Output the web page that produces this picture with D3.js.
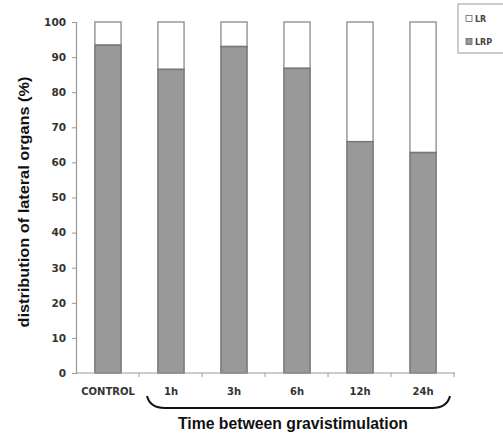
<!DOCTYPE html>
<html><head><meta charset="utf-8">
<script src="https://cdn.jsdelivr.net/npm/d3@7"></script>
<style>body{margin:0;background:#fff}svg{display:block}</style>
</head><body>
<svg id="c" width="503" height="433"></svg>
<script>
const categories = ["CONTROL","1h","3h","6h","12h","24h"];
const lrp = [93.4, 86.5, 93.0, 86.8, 65.9, 62.8];
const lr = lrp.map(v => 100 - v);
const yTicks = [0,10,20,30,40,50,60,70,80,90,100];
const seriesNames = ["LR","LRP"];

const svg = d3.select("#c");
const font = "'Liberation Sans', Arial, sans-serif";
const font2 = "'DejaVu Sans', sans-serif";
const x = d3.scaleBand().domain(categories).range([76,455]).paddingInner(0.585).paddingOuter(0.3);
const y = d3.scaleLinear().domain([0,100]).range([373,22]);

// bars
const g = svg.append("g");
categories.forEach((c,i)=>{
  g.append("rect").attr("x",x(c)).attr("width",x.bandwidth())
    .attr("y",y(100)).attr("height",y(lrp[i])-y(100))
    .attr("fill","#fff").attr("stroke","#999").attr("stroke-width",1.5);
  g.append("rect").attr("x",x(c)).attr("width",x.bandwidth())
    .attr("y",y(lrp[i])).attr("height",y(0)-y(lrp[i]))
    .attr("fill","#999").attr("stroke","#777").attr("stroke-width",1.5);
});

// y axis
const ya = svg.append("g").attr("transform","translate(76,0)")
  .call(d3.axisLeft(y).tickValues(yTicks).tickSize(4).tickPadding(6));
ya.select(".domain").attr("stroke","#999").attr("stroke-width",1.2);
ya.selectAll(".tick line").attr("stroke","#999");
ya.selectAll("text").attr("font-family",font2).attr("font-weight","bold").attr("font-size",10.5).attr("fill","#333");

// x axis
const step = x.step();
const bounds = d3.range(categories.length).map(i => 76 + step*(i+1));
svg.append("line").attr("x1",76).attr("x2",455).attr("y1",373).attr("y2",373).attr("stroke","#999").attr("stroke-width",1.2);
svg.selectAll(".xt").data(bounds).enter().append("line")
  .attr("x1",d=>d).attr("x2",d=>d).attr("y1",373).attr("y2",377).attr("stroke","#999");
svg.selectAll(".xl").data(categories).enter().append("text")
  .attr("x",d=>x(d)+x.bandwidth()/2 + (d==="CONTROL"?0:0)).attr("y",395)
  .attr("text-anchor","middle").attr("font-family",font2).attr("font-weight","bold")
  .attr("font-size",10).attr("fill","#333").text(d=>d);

// brace
svg.append("path").attr("d","M147,396 Q150,408 165,408 L432,408 Q447,408 450,396")
  .attr("fill","none").attr("stroke","#111").attr("stroke-width",2);

// titles
svg.append("text").attr("x",293).attr("y",429).attr("text-anchor","middle")
  .attr("font-family",font).attr("font-weight","bold").attr("font-size",17).attr("fill","#111")
  .attr("textLength",230).attr("lengthAdjust","spacingAndGlyphs")
  .text("Time between gravistimulation");
svg.append("text").attr("transform","translate(29,202) rotate(-90)").attr("text-anchor","middle")
  .attr("font-family",font).attr("font-weight","bold").attr("font-size",15).attr("fill","#111")
  .attr("textLength",251).attr("lengthAdjust","spacingAndGlyphs")
  .text("distribution of lateral organs (%)");

// legend
svg.append("rect").attr("x",458).attr("y",4).attr("width",50).attr("height",49)
  .attr("fill","#fff").attr("stroke","#999").attr("stroke-width",1);
seriesNames.forEach((n,i)=>{
  const yy = 19 + i*23;
  svg.append("rect").attr("x",466).attr("y",yy-3.5).attr("width",6).attr("height",6)
    .attr("fill", n==="LR" ? "#fff" : "#999").attr("stroke","#666").attr("stroke-width",0.8);
  svg.append("text").attr("x",475).attr("y",yy+3).attr("font-family",font2).attr("font-weight","bold")
    .attr("font-size",8).attr("fill","#444").text(n);
});
</script>
</body></html>
